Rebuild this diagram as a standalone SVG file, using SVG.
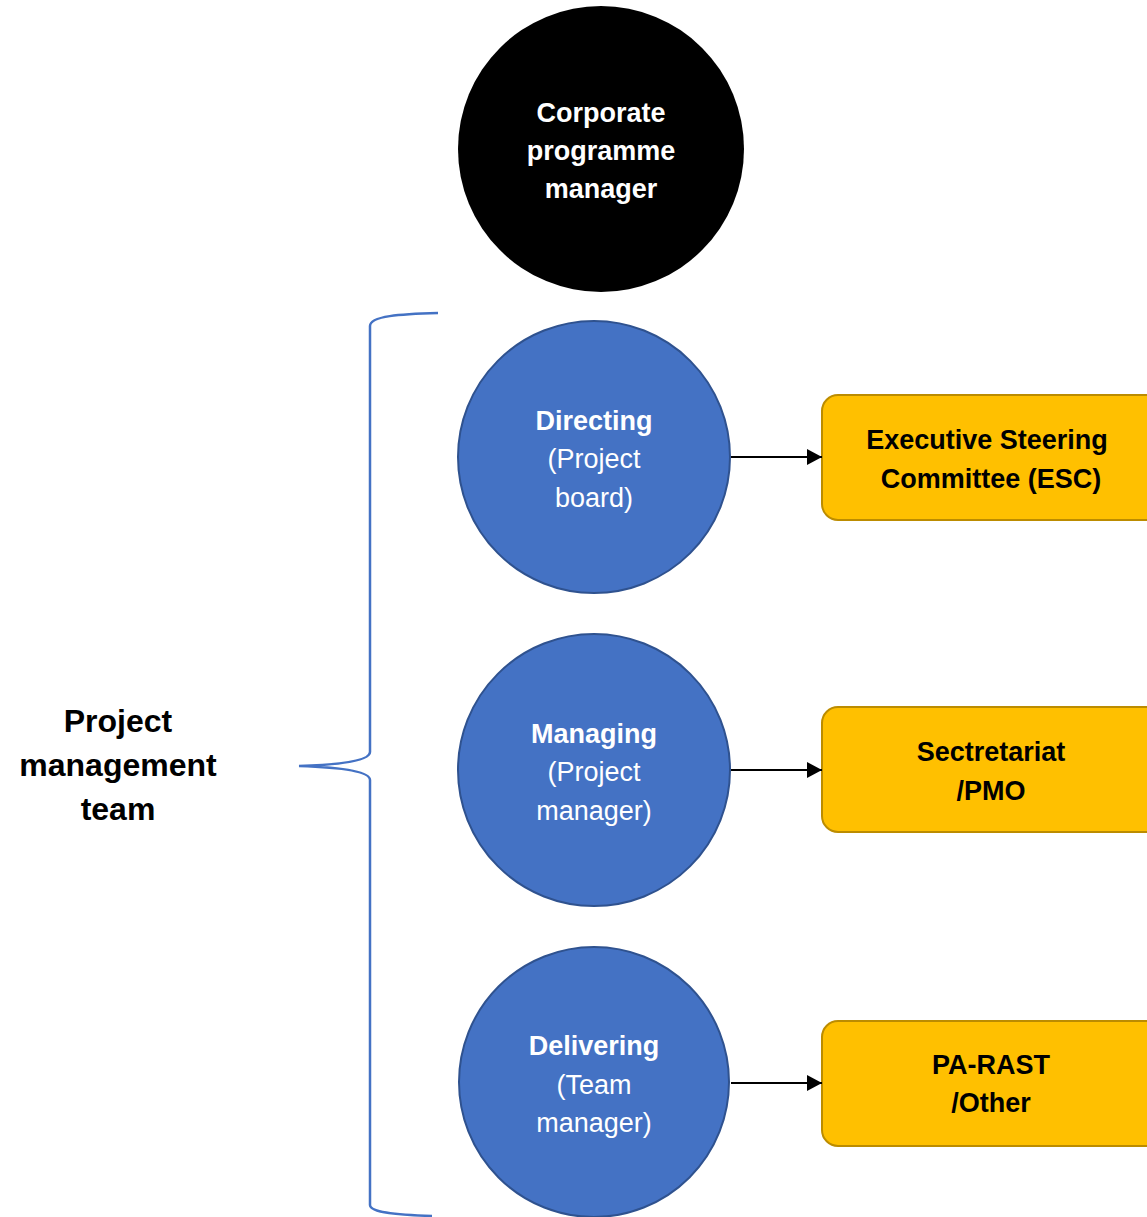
<svg xmlns="http://www.w3.org/2000/svg" width="1147" height="1217" viewBox="0 0 1147 1217">
<style>
text{font-family:"Liberation Sans",Arial,sans-serif;text-anchor:middle}
.w{fill:#fff;font-size:27px}
.b{font-weight:bold}
.k{fill:#000;font-size:27px;font-weight:bold}
.t{font-size:32px}
.circ{fill:#4472C4;stroke:#2F528F;stroke-width:2}
.box{fill:#FFC000;stroke:#BC8C00;stroke-width:2}
.conn{stroke:#000;stroke-width:2;fill:none}
</style>
<defs>
<marker id="ah" markerWidth="15" markerHeight="16" refX="15" refY="8" orient="auto" markerUnits="userSpaceOnUse">
<path d="M0,0 L15,8 L0,16 Z" fill="#000"/>
</marker>
</defs>
<rect width="1147" height="1217" fill="#fff"/>
<g id="corporate">
<circle cx="601" cy="149" r="143" fill="#000"/>
<text class="w b" x="601" y="122">Corporate</text>
<text class="w b" x="601" y="160">programme</text>
<text class="w b" x="601" y="198">manager</text>
</g>
<g id="brace">
<path d="M438,313 C400,314 370,316 370,326 L370,752 C370,762 330,765 299,766 C330,767 370,770 370,780 L370,1205 C370,1213 400,1215 432,1216" fill="none" stroke="#4472C4" stroke-width="2.5"/>
</g>
<g id="team">
<text class="k t" x="118" y="732">Project</text>
<text class="k t" x="118" y="776">management</text>
<text class="k t" x="118" y="820">team</text>
</g>
<g id="directing">
<circle class="circ" cx="594" cy="457" r="136"/>
<text class="w b" x="594" y="430">Directing</text>
<text class="w" x="594" y="468">(Project</text>
<text class="w" x="594" y="507">board)</text>
</g>
<g id="managing">
<circle class="circ" cx="594" cy="770" r="136"/>
<text class="w b" x="594" y="743">Managing</text>
<text class="w" x="594" y="781">(Project</text>
<text class="w" x="594" y="820">manager)</text>
</g>
<g id="delivering">
<circle class="circ" cx="594" cy="1082" r="135"/>
<text class="w b" x="594" y="1055">Delivering</text>
<text class="w" x="594" y="1094">(Team</text>
<text class="w" x="594" y="1132">manager)</text>
</g>
<g id="esc">
<rect class="box" x="822" y="395" width="340" height="125" rx="16"/>
<text class="k" x="987" y="449">Executive Steering</text>
<text class="k" x="991" y="488">Committee (ESC)</text>
</g>
<g id="pmo">
<rect class="box" x="822" y="707" width="340" height="125" rx="16"/>
<text class="k" x="991" y="761">Sectretariat</text>
<text class="k" x="991" y="800">/PMO</text>
</g>
<g id="parast">
<rect class="box" x="822" y="1021" width="340" height="125" rx="16"/>
<text class="k" x="991" y="1074">PA-RAST</text>
<text class="k" x="991" y="1112">/Other</text>
</g>
<g id="connectors">
<line class="conn" x1="731" y1="457" x2="822" y2="457" marker-end="url(#ah)"/>
<line class="conn" x1="731" y1="770" x2="822" y2="770" marker-end="url(#ah)"/>
<line class="conn" x1="731" y1="1083" x2="822" y2="1083" marker-end="url(#ah)"/>
</g>
</svg>
